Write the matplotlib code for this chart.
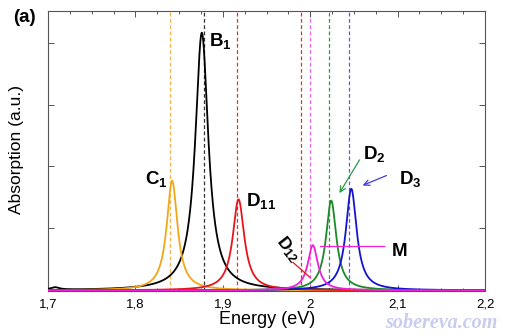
import numpy as np
import matplotlib
matplotlib.use("Agg")
import matplotlib.pyplot as plt
from matplotlib.ticker import MultipleLocator, FuncFormatter

plt.rcParams['font.family'] = ['Liberation Sans', 'DejaVu Sans']
plt.rcParams['mathtext.fontset'] = 'custom'
plt.rcParams['mathtext.rm'] = 'Liberation Sans'
plt.rcParams['mathtext.bf'] = 'Liberation Sans:bold'

# peaks: centre (eV), height (a.u.), half width (eV)
peak_names = ["C1", "B1", "D11", "D12", "D2", "D3"]
peak_centres = [1.842, 1.876, 1.918, 2.003, 2.024, 2.047]
peak_heights = [1.77, 4.16, 1.47, 0.73, 1.45, 1.64]
peak_hwhm = [0.0075, 0.009, 0.008, 0.007, 0.0072, 0.0075]
peak_colors = ["#f0a818", "black", "#e8141c", "#f020d8", "#1a8a2a", "#1414d0"]

# small feature at the low energy end (black curve)
bump_centre = 1.708
bump_height = 0.04
bump_hwhm = 0.006

# transition energies (dashed lines)
line_energies = [1.840, 1.879, 1.916, 1.990, 2.000, 2.021, 2.044]
line_colors = ["#f5b04a", "#333333", "#e03030", "#e03030", "#ee66ee", "#2a9a4a", "#5a5aee"]

energy = np.linspace(1.7, 2.2, 2001)


def lorentz(x, x0, h, g):
    return h * g**2 / ((x - x0)**2 + g**2)


fig = plt.figure(figsize=(5.18, 3.36), dpi=100)
ax = fig.add_axes([48 / 518, 45 / 336, 437 / 518, 280 / 336])

for e, c in zip(line_energies, line_colors):
    ax.axvline(e, color=c, lw=0.9, ls=(0, (3, 2)), zorder=1)

order = [1, 0, 2, 4, 5, 3]
for i in order:
    y = lorentz(energy, peak_centres[i], peak_heights[i], peak_hwhm[i])
    if peak_names[i] == "B1":
        y = y + lorentz(energy, bump_centre, bump_height, bump_hwhm)
    ax.plot(energy, y, color=peak_colors[i], lw=1.3, zorder=3)

ax.set_xlim(1.7, 2.2)
ax.set_ylim(-0.01, 4.51)
ax.xaxis.set_major_locator(MultipleLocator(0.1))
ax.xaxis.set_minor_locator(MultipleLocator(0.025))
ax.yaxis.set_major_locator(MultipleLocator(1))
ax.xaxis.set_major_formatter(FuncFormatter(lambda v, p: f"{v:g}".replace(".", ",")))
ax.set_yticklabels([])
ax.tick_params(which='both', direction='in', top=True, right=True,
               color='#555555', width=0.7, labelsize=9.5, pad=5.5)
ax.tick_params(which='major', length=4)
ax.tick_params(which='minor', length=2.5)
for s in ax.spines.values():
    s.set_color('#555555')
    s.set_linewidth(0.8)

lab = dict(fontsize=13.5, fontweight='bold', ha='left', va='baseline', zorder=5)
ax.text(1.884, 3.94, r"$\mathbf{B_1}$", **lab)
ax.text(1.811, 1.71, r"$\mathbf{C_1}$", **lab)
ax.text(1.9265, 1.355, r"$\mathbf{D_{11}}$", **lab)
ax.text(2.0604, 2.113, r"$\mathbf{D_2}$", **lab)
ax.text(2.1016, 1.71, r"$\mathbf{D_3}$", **lab)
ax.text(2.0936, 0.548, "M", **lab)
ax.text(1.9746, 0.66, r"$\mathbf{D_{12}}$", fontsize=12.5, ha='center', va='center',
        rotation=-52, rotation_mode='anchor')

ax.plot([1.9803, 1.9998], [0.452, 0.210], color='#e8141c', lw=0.9, zorder=4)
ax.plot([2.0112, 2.0844], [0.71, 0.71], color='#f020d8', lw=0.9, zorder=4)
ax.annotate("", xy=(2.0318, 1.532), xytext=(2.0581, 2.145),
            arrowprops=dict(arrowstyle='->', color='#2a9a4a', lw=0.9))
ax.annotate("", xy=(2.0570, 1.677), xytext=(2.0902, 1.871),
            arrowprops=dict(arrowstyle='->', color='#3a3ae0', lw=0.9))

fig.text(13 / 518, 1 - 17 / 336, "(a)", fontsize=13.5, fontweight='bold', va='center')
fig.text(17 / 518, 1 - 150 / 336, "Absorption (a.u.)", fontsize=12.5, rotation=90,
         ha='center', va='center')
fig.text(267 / 518, 1 - 319.5 / 336, "Energy (eV)", fontsize=13, ha='center', va='center')
fig.text(441 / 518, 1 - 323 / 336, "sobereva.com", fontsize=14.5, family='Liberation Serif',
         fontweight='bold', fontstyle='italic', color='#c8ccf0', ha='center', va='center')

fig.savefig("out.png", dpi=100)
